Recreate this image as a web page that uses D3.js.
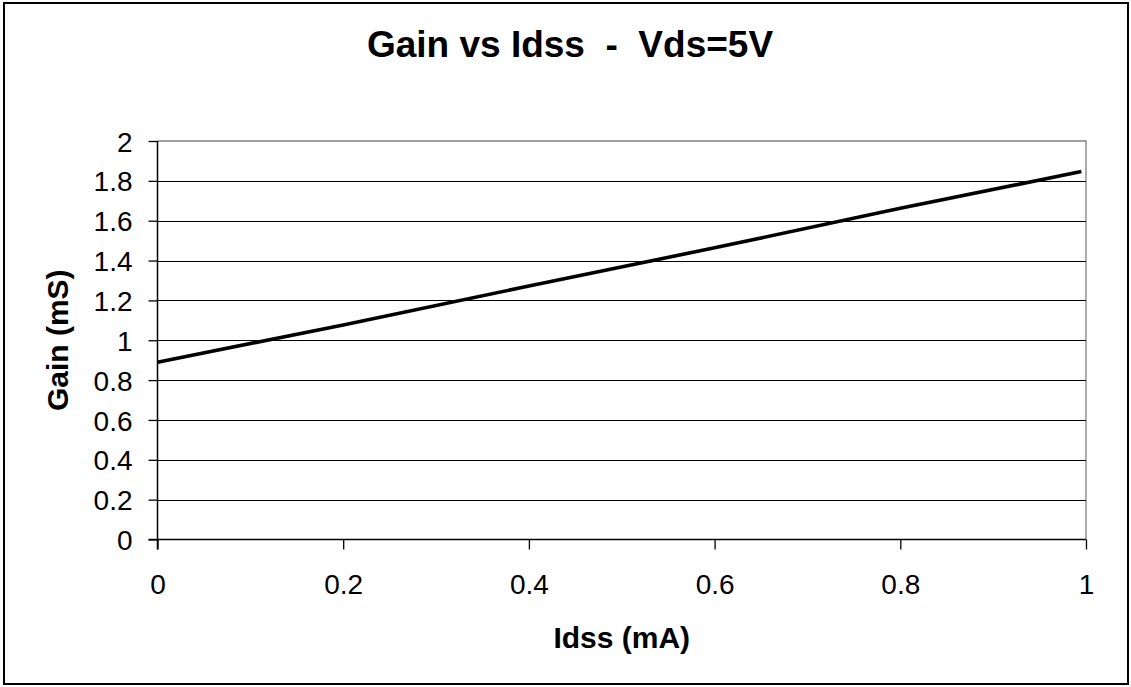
<!DOCTYPE html>
<html>
<head>
<meta charset="utf-8">
<script src="https://cdn.jsdelivr.net/npm/d3@7"></script>
<style>
  html, body { margin: 0; padding: 0; background: #fff; }
  svg { display: block; font-family: "Liberation Sans", Arial, sans-serif; }
  text { white-space: pre; }
</style>
</head>
<body>
<svg id="chart" width="1131" height="687"></svg>
<script>
// Data
const idss = [0, 0.2, 0.4, 0.6, 0.8, 0.995];
const gain = [0.89, 1.077, 1.272, 1.464, 1.662, 1.847];
const xTicks = [0, 0.2, 0.4, 0.6, 0.8, 1];
const yTicks = [0, 0.2, 0.4, 0.6, 0.8, 1, 1.2, 1.4, 1.6, 1.8, 2];
const title = "Gain vs Idss  -  Vds=5V";
const xTitle = "Idss (mA)";
const yTitle = "Gain (mS)";

const svg = d3.select("#chart");
const pLeft = 157.5, pRight = 1086, pTop = 141, pBottom = 539.5;

const x = d3.scaleLinear().domain([0, 1]).range([pLeft, pRight]);
const y = d3.scaleLinear().domain([0, 2]).range([pBottom, pTop]);

// outer border
svg.append("rect").attr("x", 4).attr("y", 3).attr("width", 1124).attr("height", 681)
  .attr("fill", "#fff").attr("stroke", "#000").attr("stroke-width", 2);

// title
svg.append("text").attr("x", 570).attr("y", 57).attr("text-anchor", "middle")
  .attr("font-size", 37).attr("font-weight", "bold").text(title);

// plot frame (gray top & right)
svg.append("path")
  .attr("d", `M${pLeft},${pTop}H${pRight}V${pBottom}`)
  .attr("fill", "none").attr("stroke", "#808080").attr("stroke-width", 1.3);

// gridlines
svg.append("g").selectAll("line").data(yTicks.filter(d => d > 0 && d < 2)).join("line")
  .attr("x1", pLeft).attr("x2", pRight)
  .attr("y1", d => Math.round(y(d)) + 0.5).attr("y2", d => Math.round(y(d)) + 0.5)
  .attr("stroke", "#000").attr("stroke-width", 1.2);

// y axis
const yAxis = d3.axisLeft(y).tickValues(yTicks).tickSize(9).tickPadding(16)
  .tickFormat(d => d3.format("")(+d.toFixed(1)));
const gy = svg.append("g").attr("transform", `translate(${pLeft},0)`).call(yAxis);
gy.select(".domain").remove();
gy.selectAll(".tick line").attr("stroke", "#000").attr("stroke-width", 1.3);
gy.selectAll(".tick text").attr("font-size", 28).attr("fill", "#000")
  .attr("font-family", "'Liberation Sans', Arial, sans-serif").attr("dy", "0.36em");

// x axis
const xAxis = d3.axisBottom(x).tickValues(xTicks).tickSize(10).tickPadding(25)
  .tickFormat(d => d3.format("")(+d.toFixed(1)));
const gx = svg.append("g").attr("transform", `translate(0,${pBottom})`).call(xAxis);
gx.select(".domain").remove();
gx.selectAll(".tick line").attr("stroke", "#000").attr("stroke-width", 1.3);
gx.selectAll(".tick text").attr("font-size", 28).attr("fill", "#000")
  .attr("font-family", "'Liberation Sans', Arial, sans-serif");

// axis lines
svg.append("line").attr("x1", pLeft).attr("x2", pLeft).attr("y1", pTop).attr("y2", pBottom + 10)
  .attr("stroke", "#000").attr("stroke-width", 1.5);
svg.append("line").attr("x1", pLeft - 9).attr("x2", pRight).attr("y1", pBottom).attr("y2", pBottom)
  .attr("stroke", "#000").attr("stroke-width", 1.5);

// data line
const pts = idss.map((d, i) => [d, gain[i]]);
svg.append("path").datum(pts)
  .attr("d", d3.line().x(d => x(d[0])).y(d => y(d[1])))
  .attr("fill", "none").attr("stroke", "#000").attr("stroke-width", 3.6);

// axis titles
svg.append("text").attr("x", (pLeft + pRight) / 2).attr("y", 648).attr("text-anchor", "middle")
  .attr("font-size", 30).attr("font-weight", "bold").text(xTitle);
svg.append("text").attr("transform", `translate(68,${(pTop + pBottom) / 2}) rotate(-90)`)
  .attr("text-anchor", "middle").attr("font-size", 30).attr("font-weight", "bold").text(yTitle);
</script>
</body>
</html>
